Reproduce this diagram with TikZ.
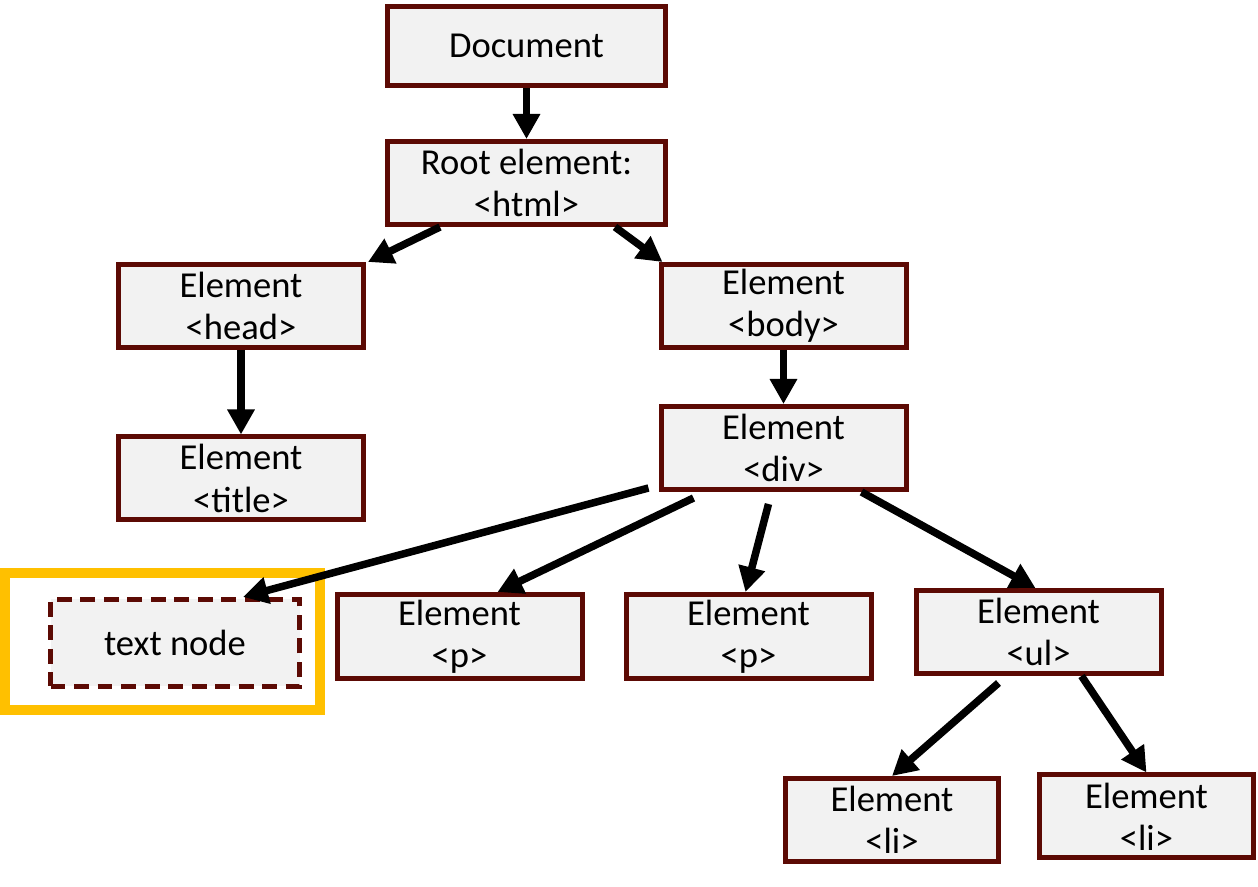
\documentclass[tikz,border=0pt]{standalone}
\usepackage{fontspec}
\setmainfont{Carlito}
\usepackage{tikz}
\usetikzlibrary{arrows.meta,positioning,calc}
\definecolor{boxred}{HTML}{5C0A04}
\definecolor{boxfill}{HTML}{F2F2F2}
\definecolor{frameyellow}{HTML}{FFC000}
\tikzset{elem/.style={draw=boxred,fill=boxfill,line width=0.05cm,align=center,inner sep=0pt,
    minimum width=2.45cm,minimum height=0.83cm,font=\fontsize{10.4}{12}\selectfont}}

\begin{document}
\begin{tikzpicture}[->, >={Triangle[length=2.5mm,width=2.6mm]}, line width=0.075cm]
        \tikzstyle{textbox}=[elem,dash pattern=on 0.15cm off 0.085cm,line width=0.05cm,minimum width=2.49cm,minimum height=0.87cm]
        \useasboundingbox (0,0) rectangle (12.58,-8.87);
        \node[elem,minimum width=2.78cm,minimum height=0.79cm] (doc) at (5.265,-0.46) {Document};
        \node[elem,minimum width=2.78cm] (root) at (5.265,-1.83) {Root element:\\<html>};
        \node[elem] (head) at (2.41,-3.06) {Element\\<head>};
        \node[elem] (body) at (7.835,-3.06) {Element\\<body>};
        \node[elem] (title) at (2.41,-4.785) {Element\\<title>};
        \node[elem] (div) at (7.835,-4.48) {Element\\<div>};
        \node[textbox] (text) at (1.75,-6.43) {text node};
        \node[elem,minimum height=0.84cm] (p1) at (4.595,-6.365) {Element\\<p>};
        \node[elem,minimum height=0.84cm] (p2) at (7.485,-6.365) {Element\\<p>};
        \node[elem] (ul) at (10.385,-6.32) {Element\\<ul>};
        \node[elem,minimum width=2.13cm] (li1) at (8.92,-8.20) {Element\\<li>};
        \node[elem,minimum width=2.14cm] (li2) at (11.465,-8.165) {Element\\<li>};
        % highlight round the text node
        \draw[-,draw=frameyellow,line width=0.10cm] (0.05,-5.73) rectangle (3.20,-7.10);
        \draw (doc) -- (root);
        \draw ([xshift=0.55cm]root.south west) -- ([xshift=0.02cm]head.north east);
        \draw ([xshift=-0.53cm]root.south east) -- ([xshift=0.04cm]body.north west);
        \draw (head) -- (title);
        \draw (body) -- (div);
        \draw ($(div.south west)+(-0.10,0.04)$) -- ([xshift=0.68cm]text.north);
        \draw ($(div.south west)+(0.35,-0.06)$) -- ([xshift=0.38cm]p1.north);
        \draw ($(div.south)+(-0.15,-0.12)$) -- ([xshift=-0.03cm]p2.north);
        \draw ([xshift=-0.47cm]div.south east) -- ([xshift=-0.03cm]ul.north);
        \draw ($(ul.south)+(-0.40,-0.07)$) -- (li1.north);
        \draw ([xshift=0.43cm]ul.south) -- (li2.north);
\end{tikzpicture}
\end{document}
